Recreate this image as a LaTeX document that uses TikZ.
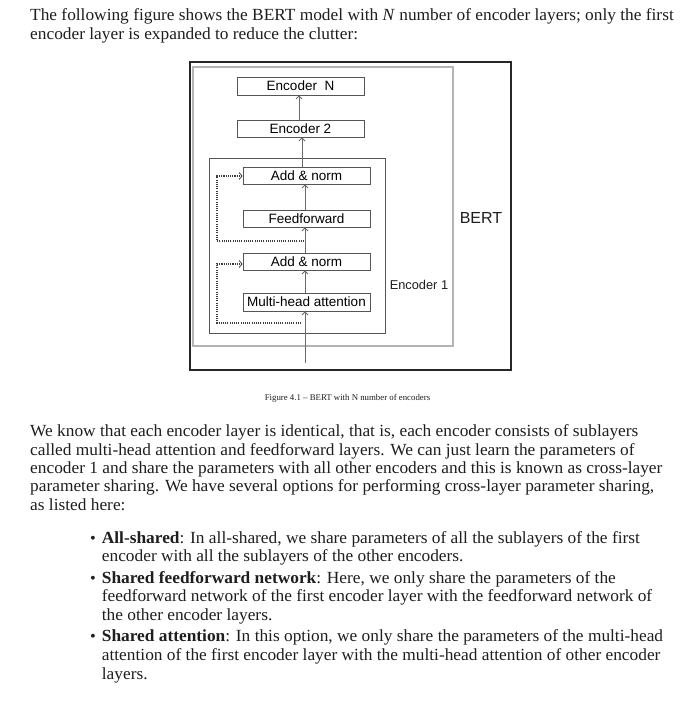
\documentclass[tikz,border=0pt]{standalone}
\usepackage{fontspec}
\setmainfont[FakeStretch=1.02]{Liberation Serif}
\newfontfamily\diagfont{Liberation Sans}
\newfontfamily\capfont{Liberation Serif}
\usetikzlibrary{arrows.meta,calc}
\definecolor{boxline}{HTML}{555555}
\definecolor{spinecol}{HTML}{6A6A6A}
\definecolor{dotcol}{HTML}{3C3C3C}
\definecolor{bertgray}{HTML}{B4B4B4}
\definecolor{txt}{HTML}{1E1E1E}
\begin{document}
\begin{tikzpicture}[x=1pt,y=-1pt,
  bodytext/.style={anchor=base west,inner sep=0pt,text=txt,font=\fontsize{17}{18}\selectfont},
  layerbox/.style={draw=boxline,line width=0.8pt,fill=white,inner sep=0pt,
    minimum width=127pt,minimum height=17pt,
    font=\diagfont\fontsize{13.5}{14}\selectfont},
  flow/.style={draw=spinecol,line width=0.8pt,-{Straight Barb[length=3pt,width=6pt]}},
  skip/.style={draw=dotcol,line width=1.2pt,dash pattern=on 1.1pt off 1.1pt,
    -{Straight Barb[length=3pt,width=7pt,line width=0.8pt]}},
  bullet/.style={anchor=base,inner sep=0pt,text=txt,font=\fontsize{16}{18}\selectfont}]
\useasboundingbox (0,0) rectangle (700,721);
\fill[white] (0,0) rectangle (700,721);

% top text
\node[bodytext] (t1) at (30,20.7) {The following figure shows the BERT model with \textit{N} number of encoder layers; only the first};
\node[bodytext] (t2) at (30,39) {encoder layer is expanded to reduce the clutter:};

% diagram frames
\node[draw=black!85,line width=1.3pt,minimum width=321pt,minimum height=308pt,inner sep=0pt] (bert) at (350.5,216) {};
\node[draw=bertgray,line width=2pt,minimum width=260pt,minimum height=279pt,inner sep=0pt] (stack) at (323,206.5) {};
\node[draw=boxline,line width=0.8pt,minimum width=176pt,minimum height=175pt,inner sep=0pt] (enc1) at (297,245.5) {};

% layer boxes
\node[layerbox,minimum height=18pt] (encN) at (300.5,86) {Encoder\ \ N};
\node[layerbox] (enc2) at (300.5,128.5) {Encoder 2};
\node[layerbox] (addtop) at (306.5,175.5) {Add \& norm};
\node[layerbox] (ff) at (306.5,218.5) {Feedforward};
\node[layerbox] (addlow) at (306.5,261.5) {Add \& norm};
\node[layerbox,minimum height=18pt] (mha) at (306.5,302) {Multi-head attention};

\node[inner sep=0pt,font=\diagfont\fontsize{12.8}{14}\selectfont,text=txt] (l1) at (419,285) {Encoder 1};
\node[inner sep=0pt,font=\diagfont\fontsize{16}{18}\selectfont,text=txt] (lb) at (481,218) {BERT};

% connectors
\coordinate (spine) at (305,0);
\coordinate (input) at (305,363);
\draw[flow] (input) -- (spine |- mha.south);
\draw[flow] (spine |- mha.north) -- (spine |- addlow.south);
\draw[flow] (spine |- addlow.north) -- (spine |- ff.south);
\draw[flow] (spine |- ff.north) -- (spine |- addtop.south);
\draw[flow] ($(spine |- addtop.north)+(-3,0)$) -- ($(spine |- enc2.south)+(-3,0)$);
\draw[flow] ($(spine |- enc2.north)+(-6,0)$) -- ($(spine |- encN.south)+(-6,0)$);

\coordinate (s1) at (301,323);
\coordinate (s2) at (304,241);
\coordinate (lx) at (217,0);
\draw[skip] (s1) -- (lx |- s1) -- (lx |- 0,264) -- (addlow.west |- 0,264);
\draw[skip] (s2) -- (lx |- s2) -- (lx |- 0,176) -- (addtop.west |- 0,176);

% caption
\node[inner sep=0pt,anchor=base,font=\capfont\fontsize{8.8}{10}\selectfont,text=txt] (cap) at (347.5,400) {Figure 4.1 – BERT with N number of encoders};

% paragraph
\node[bodytext] (p1) at (30,436.7) {We know that each encoder layer is identical, that is, each encoder consists of sublayers};
\node[bodytext] (p2) at (30,455) {called multi-head attention and feedforward layers. We can just learn the parameters of};
\node[bodytext] (p3) at (30,473.3) {encoder 1 and share the parameters with all other encoders and this is known as cross-layer};
\node[bodytext] (p4) at (30,491.7) {parameter sharing. We have several options for performing cross-layer parameter sharing,};
\node[bodytext] (p5) at (30,510) {as listed here:};

% bullets
\node[bullet] (b1) at (93,543.3) {•};
\node[bullet] (b2) at (93,583.3) {•};
\node[bullet] (b3) at (93,641.7) {•};
\node[bodytext] (i1) at (101.7,543.3) {\textbf{All-shared}: In all-shared, we share parameters of all the sublayers of the first};
\node[bodytext] (i2) at (101.7,561.7) {encoder with all the sublayers of the other encoders.};
\node[bodytext] (i3) at (101.7,583.3) {\textbf{Shared feedforward network}: Here, we only share the parameters of the};
\node[bodytext] (i4) at (101.7,601.7) {feedforward network of the first encoder layer with the feedforward network of};
\node[bodytext] (i5) at (101.7,620) {the other encoder layers.};
\node[bodytext] (i6) at (101.7,641.7) {\textbf{Shared attention}: In this option, we only share the parameters of the multi-head};
\node[bodytext] (i7) at (101.7,660) {attention of the first encoder layer with the multi-head attention of other encoder};
\node[bodytext] (i8) at (101.7,679) {layers.};
\end{tikzpicture}
\end{document}
